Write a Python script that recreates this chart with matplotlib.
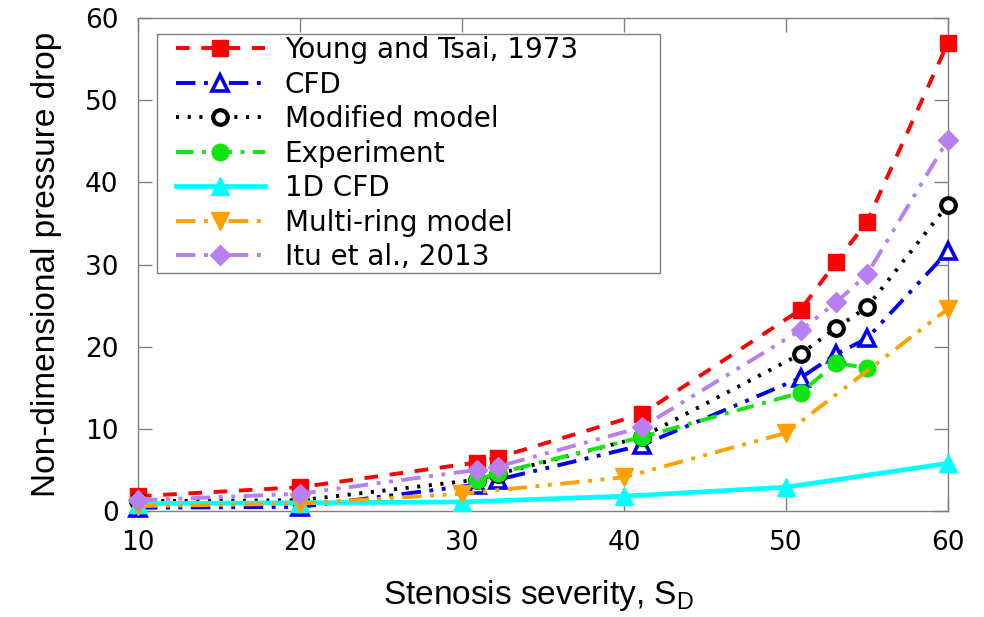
import numpy as np
import matplotlib
matplotlib.use("Agg")
import matplotlib.pyplot as plt
from matplotlib.lines import Line2D
from matplotlib.legend_handler import HandlerLine2D

# severity values where most series were sampled
sd_main = [10, 20, 30.9, 32.2, 41.1, 50.9, 53.1, 55.0, 60]
sd_exp = [30.9, 32.2, 41.1, 50.9, 53.1, 55.0]
sd_1d = [10, 20, 30, 40, 50, 60]

young_tsai = [1.8, 2.9, 5.9, 6.5, 11.8, 24.5, 30.3, 35.2, 57.0]
cfd = [0.4, 0.5, 3.2, 3.8, 8.0, 16.2, 19.1, 21.0, 31.6]
modified = [1.2, 1.3, 3.8, 4.5, 9.0, 19.1, 22.3, 24.8, 37.3]
experiment = [3.8, 4.6, 9.0, 14.4, 18.0, 17.4]
cfd_1d = [0.9, 1.0, 1.1, 1.8, 2.9, 5.8]
multi_ring = [0.6, 0.9, 2.1, 4.1, 9.5, 24.6]
itu = [1.3, 2.1, 5.0, 5.4, 10.2, 22.0, 25.4, 28.8, 45.2]

xticks = [10, 20, 30, 40, 50, 60]
yticks = [0, 10, 20, 30, 40, 50, 60]

fig = plt.figure(figsize=(9.84, 6.17), dpi=100)
ax = fig.add_axes([0.1402, 0.1718, 0.8232, 0.799])

lw = 2.8
dd = (5, 2.2, 1, 2.2, 1, 2.2)  # dash-dot-dot
ax.plot(sd_main, young_tsai, color="#ff0000", lw=lw, dashes=(3.5, 3), marker="s",
        ms=12, clip_on=False, label="Young and Tsai, 1973", zorder=3)
ax.plot(sd_main, cfd, color="#0000f0", lw=lw, dashes=dd, marker="^",
        ms=12, mfc="white", mew=2.6, clip_on=False, label="CFD", zorder=3)
ax.plot(sd_main, modified, color="black", lw=lw, dashes=(0.8, 2.2), marker="o",
        ms=10.5, mfc="white", mew=3, clip_on=False, label="Modified model", zorder=3)
ax.plot(sd_exp, experiment, color="#10e610", lw=lw, dashes=(4.5, 2.2, 1, 2.2), marker="o",
        ms=12, clip_on=False, label="Experiment", zorder=3)
ax.plot(sd_1d, cfd_1d, color="#00ffff", lw=lw + 0.6, ls="-", marker="^",
        ms=13, clip_on=False, label="1D CFD", zorder=3)
ax.plot(sd_1d, multi_ring, color="#ffa000", lw=lw, dashes=dd, marker="v",
        ms=13, clip_on=False, label="Multi-ring model", zorder=3)
ax.plot(sd_main, itu, color="#b87ff0", lw=lw, dashes=dd, marker="D",
        ms=10, clip_on=False, label="Itu et al., 2013", zorder=3)

ax.set_xlim(10, 60)
ax.set_ylim(0, 60)
ax.set_xticks(xticks)
ax.set_yticks(yticks)
ax.tick_params(direction="in", length=10, width=1, color="#808080",
               top=True, right=True, labelsize=19, pad=14)
for s in ax.spines.values():
    s.set_color("#808080")
    s.set_linewidth(1)

ax.set_xlabel("Stenosis severity, S$_\\mathregular{D}$", family="Liberation Sans",
              fontsize=24)
ax.set_ylabel("Non-dimensional pressure drop", family="Liberation Sans",
              fontsize=24)
ax.xaxis.set_label_coords(0.495, -0.135)
ax.yaxis.set_label_coords(-0.094, 0.5)

leg = ax.legend(loc="upper left", bbox_to_anchor=(0.023, 0.968, 0.622, 0.0),
                mode="expand", borderaxespad=0,
                handler_map={Line2D: HandlerLine2D(xpad=0.61)},
                fontsize=20, handlelength=3.81, handletextpad=0.72, labelspacing=0.234,
                fancybox=False, framealpha=1, edgecolor="#808080", borderpad=0.08)
leg.get_frame().set_linewidth(1)

fig.savefig("out.png", dpi=100)
